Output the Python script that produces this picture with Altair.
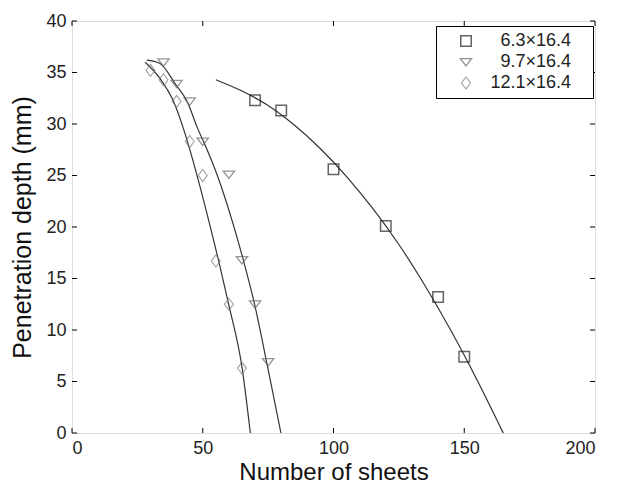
import altair as alt
import pandas as pd

series = ["6.3×16.4", "9.7×16.4", "12.1×16.4"]

sq_x = [70, 80, 100, 120, 140, 150]
sq_y = [32.3, 31.3, 25.6, 20.1, 13.2, 7.4]
tri_x = [35, 40, 45, 50, 60, 65, 70, 75]
tri_y = [36.0, 33.9, 32.2, 28.3, 25.1, 16.8, 12.5, 6.9]
dia_x = [30, 35, 40, 45, 50, 55, 60, 65]
dia_y = [35.2, 34.3, 32.2, 28.3, 25.0, 16.7, 12.5, 6.3]

sq_fit_x = [55, 65, 75, 85, 95, 105, 115, 125, 135, 145, 155, 164.9]
sq_fit_y = [34.3, 33.2, 31.8, 29.9, 27.6, 24.9, 21.8, 18.3, 14.3, 9.9, 5.1, 0]
tri_fit_x = [28.6, 33.5, 39.5, 44.0, 48.0, 51.5, 55.3, 62.3, 65.5, 70.0, 74.5, 79.9]
tri_fit_y = [36.2, 35.9, 33.9, 32.2, 29.6, 27.6, 25.2, 19.7, 16.8, 12.3, 6.8, 0]
dia_fit_x = [28.0, 33.7, 38.8, 42.8, 46.2, 53.2, 56.0, 60.0, 65.0, 68.2]
dia_fit_y = [36.0, 34.4, 32.2, 29.4, 26.5, 19.7, 16.8, 12.4, 6.4, 0]

x_ticks = [0, 50, 100, 150, 200]
y_ticks = [0, 5, 10, 15, 20, 25, 30, 35, 40]

W, H = 523, 412

pts = pd.concat([
    pd.DataFrame({"x": sq_x, "y": sq_y, "s": series[0]}),
    pd.DataFrame({"x": tri_x, "y": tri_y, "s": series[1]}),
    pd.DataFrame({"x": dia_x, "y": dia_y, "s": series[2]}),
])
fits = pd.concat([
    pd.DataFrame({"x": sq_fit_x, "y": sq_fit_y, "s": series[0]}),
    pd.DataFrame({"x": tri_fit_x, "y": tri_fit_y, "s": series[1]}),
    pd.DataFrame({"x": dia_fit_x, "y": dia_fit_y, "s": series[2]}),
])

xs = alt.Scale(domain=[0, 200], nice=False, zero=False)
ys = alt.Scale(domain=[0, 40], nice=False, zero=False)

font = "Liberation Sans"

xax = alt.Axis(values=x_ticks, ticks=False, domain=False, grid=False, labelFontSize=18,
               labelPadding=6, titleFontSize=24, titleFontWeight="normal",
               labelColor="#222", titleColor="#111", titlePadding=3)
yax = alt.Axis(values=y_ticks, ticks=False, domain=False, grid=False, labelFontSize=18,
               labelPadding=6, titleFontSize=25, titleFontWeight="normal",
               labelColor="#222", titleColor="#111", titlePadding=10)

shape_paths = ["square", "M-1,-0.6L1,-0.6L0,0.7Z", "M0,-1L0.75,0L0,1L-0.75,0Z"]

leg = alt.Legend(orient="none", legendX=364, legendY=5, padding=6,
                 strokeColor="black", fillColor="white",
                 symbolOffset=15, labelOffset=96, labelFontSize=18,
                 labelFont=font, labelColor="#222", rowPadding=3,
                 labelAlign="right", symbolFillColor="transparent",
                 title="MM", titleOrient="right", titleColor="white",
                 titleFontSize=8, titlePadding=2)

lines = alt.Chart(fits).mark_line(interpolate="monotone", color="#333", strokeWidth=1.2).encode(
    x=alt.X("x:Q", scale=xs, axis=xax, title="Number of sheets"),
    y=alt.Y("y:Q", scale=ys, axis=yax, title="Penetration depth (mm)"),
    detail="s:N",
    order="x:Q",
)

points = alt.Chart(pts).mark_point(filled=False, fill=None).encode(
    x=alt.X("x:Q", scale=xs),
    y=alt.Y("y:Q", scale=ys),
    shape=alt.Shape("s:N", scale=alt.Scale(domain=series, range=shape_paths), legend=leg),
    stroke=alt.Stroke("s:N", scale=alt.Scale(domain=series, range=["#222", "#666", "#777"]), legend=leg),
    size=alt.Size("s:N", scale=alt.Scale(domain=series, range=[110, 144, 144]), legend=leg),
    strokeWidth=alt.StrokeWidth("s:N", scale=alt.Scale(domain=series, range=[1.5, 1.1, 1.1]), legend=leg),
)

xt = pd.DataFrame({"v": x_ticks})
yt = pd.DataFrame({"v": y_ticks})
tick_x_bottom = alt.Chart(xt).mark_rule(color="black", strokeWidth=1).encode(
    x=alt.X("v:Q", scale=xs), y=alt.value(H), y2=alt.value(H - 5))
tick_x_top = alt.Chart(xt).mark_rule(color="black", strokeWidth=1).encode(
    x=alt.X("v:Q", scale=xs), y=alt.value(0), y2=alt.value(5))
tick_y_left = alt.Chart(yt).mark_rule(color="black", strokeWidth=1).encode(
    y=alt.Y("v:Q", scale=ys), x=alt.value(0), x2=alt.value(5))
tick_y_right = alt.Chart(yt).mark_rule(color="black", strokeWidth=1).encode(
    y=alt.Y("v:Q", scale=ys), x=alt.value(W), x2=alt.value(W - 5))

chart = alt.layer(lines, tick_x_bottom, tick_x_top, tick_y_left, tick_y_right, points).properties(
    width=W, height=H, padding={"left": 2, "top": 4, "right": 5, "bottom": 2}
).configure_view(stroke="black", strokeWidth=1.2).configure(
    font=font, background="white"
)

chart.save("out.html", embed_options={"renderer": "svg", "actions": False})
